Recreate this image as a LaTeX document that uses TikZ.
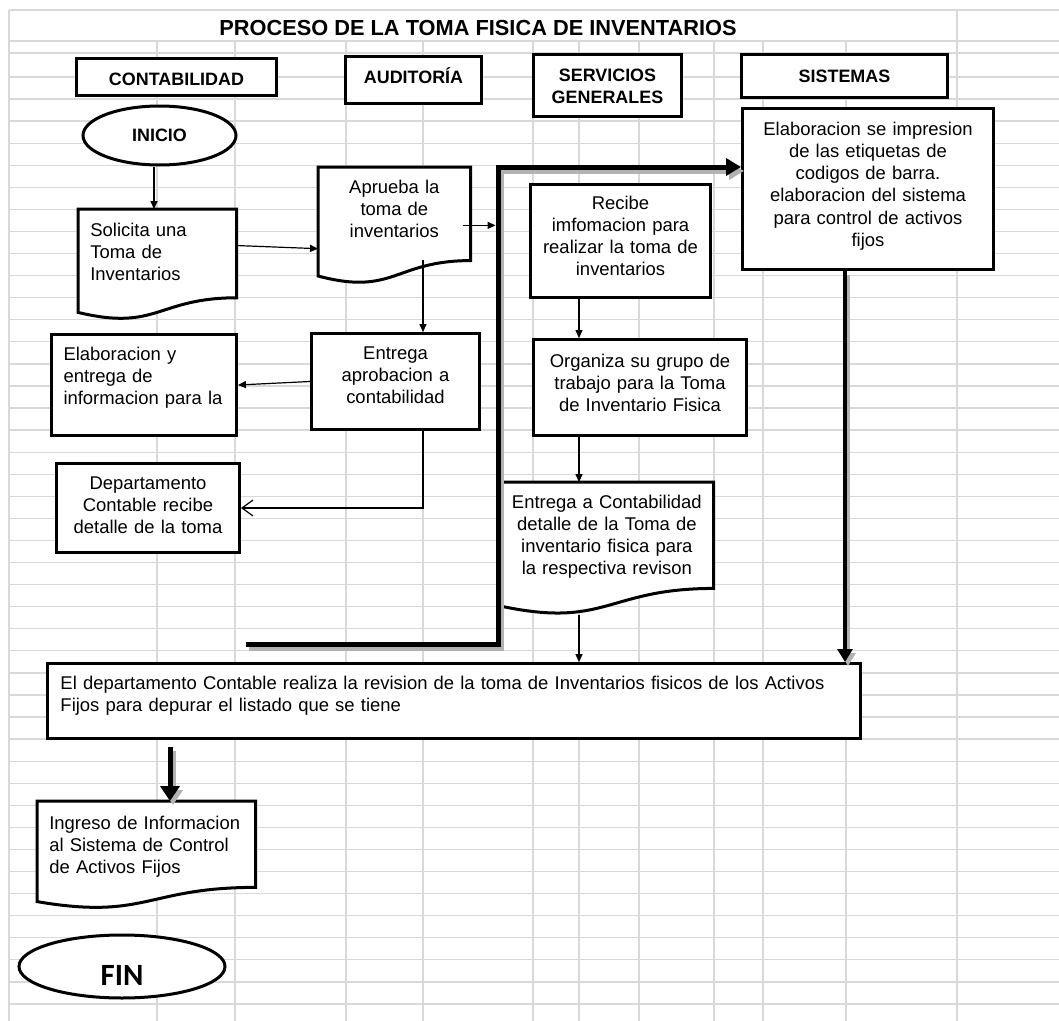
\documentclass[tikz,border=0pt]{standalone}
\usepackage{fontspec}
\setmainfont{Liberation Sans}
\newfontfamily\finfont{Carlito}
\usepackage{tikz}
\usetikzlibrary{arrows.meta, shapes.geometric, calc}
\newdimen\ux
\ux=0.02cm
\newcommand{\boxfont}{\fontsize{10.5}{12.6}\selectfont}
\newcommand{\lanefont}{\fontsize{10.2}{13}\selectfont\bfseries}
\newcommand{\docwave}[1]{%
  \filldraw[docline] (#1.north west) -- (#1.north east)
    -- ($(#1.north east)!0.802!(#1.south east)$)
    .. controls ($(#1.north)!0.802!(#1.south)$) and ($(#1.north)!1.1075!(#1.south)$)
    .. ($(#1.north west)!0.934!(#1.south west)$) -- cycle;}
\pgfdeclarelayer{grid}
\pgfdeclarelayer{outline}
\pgfsetlayers{grid,outline,main}

\begin{document}
\begin{tikzpicture}[x=0.02cm, y=-0.02cm,
                    gridline/.style={draw=black!15, line width=1.3\ux},
                    dims/.style n args={3}{text width=#1\ux, text height=#2\ux, text depth=#3\ux},
                    lane/.style={draw, fill=white, line width=3\ux, font=\lanefont, align=center,
                                 inner xsep=6\ux, inner ysep=0pt, anchor=north west},
                    stepbox/.style={draw, fill=white, line width=3\ux, font=\boxfont, align=center,
                                    inner xsep=6\ux, inner ysep=0pt, anchor=north west},
                    docnode/.style={font=\boxfont, align=center, inner xsep=6\ux, inner ysep=0pt,
                                    anchor=north west},
                    docline/.style={draw=black, fill=white, line width=3\ux},
                    terminal/.style={ellipse, draw, fill=white, line width=3\ux, inner sep=0pt},
                    flow/.style={-{Triangle[length=4.5pt, width=4pt]}, line width=1.2\ux},
                    openflow/.style={-{Straight Barb[length=6.2pt, width=9pt]}, line width=1.2\ux},
                    bigflow/.style={line width=5\ux},
                    shade/.style={draw=black!30, transform canvas={xshift=3\ux, yshift=-4\ux}}]
                    \useasboundingbox (0,0) rectangle (1059,1021);

                    \begin{pgfonlayer}{grid}
                    \draw[gridline] (9,10) -- (9,1021);
                    \draw[gridline] (957,10) -- (957,1021);
                    \foreach \gx in {157,235,346,423,533,579,639,714,763,846}
                        \draw[gridline] (\gx,41) -- (\gx,1021);
                    \foreach \gy in {10,41,53}
                        \draw[gridline] (9,\gy) -- (1059,\gy);
                    \foreach \k in {0,...,42}
                        \draw[gridline] (9,{77+22.07*\k}) -- (1059,{77+22.07*\k});
                    \end{pgfonlayer}

                    \node[font=\fontsize{12.4}{14}\selectfont\bfseries, anchor=base] (titulo) at (478,35)
                        {PROCESO DE LA TOMA FISICA DE INVENTARIOS};

                    \node[lane, dims={188}{26.5}{10.5}] (contab) at (75,57) {CONTABILIDAD};
                    \node[lane, dims={124}{26.5}{20.5}] (audit) at (344,55) {AUDITORÍA};
                    \node[lane, dims={136}{26.5}{35.5}] (servgen) at (532,53) {SERVICIOS\\GENERALES};
                    \node[lane, dims={194}{27.5}{15.5}] (sistemas) at (740,53) {SISTEMAS};

                    \node[terminal, minimum width=153\ux, minimum height=59\ux, font=\lanefont]
                        (inicio) at (159.5,135.5) {INICIO};

                    \node[docnode, align=left, inner xsep=12\ux, dims={134}{27}{83}] (solicita) at (78,209)
                        {Solicita una\\Toma de\\Inventarios};
                    \node[docnode, dims={140}{26}{90}] (aprueba) at (318,167)
                        {Aprueba la\\toma de\\inventarios};
                    \node[stepbox, dims={239}{27}{134}] (sisbox) at (741,107)
                        {Elaboracion se impresion\\de las etiquetas de\\codigos de barra.\\elaboracion del sistema\\para control de activos\\fijos};
                    \node[stepbox, dims={168}{25}{88}] (recibe) at (529,183)
                        {Recibe\\imfomacion para\\realizar la toma de\\inventarios};
                    \node[stepbox, dims={156}{26}{70}] (entapr) at (310,332)
                        {Entrega\\aprobacion a\\contabilidad};
                    \node[stepbox, align=left, inner xsep=12\ux, dims={161}{26}{75}] (elab) at (50,333)
                        {Elaboracion y\\entrega de\\informacion para la};
                    \node[stepbox, dims={201}{28}{68}] (organiza) at (532,338)
                        {Organiza su grupo de\\trabajo para la Toma\\de Inventario Fisica};
                    \node[stepbox, dims={171}{26}{63}] (depto) at (55,462)
                        {Departamento\\Contable recibe\\detalle de la toma};
                    \node[docnode, dims={201}{26}{106}] (entdoc) at (500,482)
                        {Entrega a Contabilidad\\detalle de la Toma de\\inventario fisica para\\la respectiva revison};
                    \node[stepbox, align=left, inner xsep=13\ux, dims={787}{26}{49}] (revision) at (46,662)
                        {El departamento Contable realiza la revision de la toma de Inventarios fisicos de los Activos\\Fijos para depurar el listado que se tiene};
                    \node[docnode, align=left, inner xsep=12\ux, dims={194}{28}{79}] (ingreso) at (37,801)
                        {Ingreso de Informacion\\al Sistema de Control\\de Activos Fijos};

                    \node[terminal, minimum width=206\ux, minimum height=63\ux,
                          font=\finfont\bfseries\fontsize{17.6}{20}\selectfont, text height=37\ux, text depth=0pt]
                        (fin) at (122,966.5) {FIN};

                    \begin{pgfonlayer}{outline}
                    \docwave{solicita}
                    \docwave{aprueba}
                    \docwave{entdoc}
                    \docwave{ingreso}
                    \end{pgfonlayer}

                    \coordinate (colcon) at (154,0);
                    \coordinate (colaud) at (423,0);
                    \coordinate (colserv) at (579,0);
                    \coordinate (colsis) at (845,0);
                    \coordinate (colrev) at (170,0);
                    \coordinate (loopa) at (246,644);
                    \coordinate (loopb) at (498,644);
                    \coordinate (loopc) at (498,167);

                    \draw[flow] (inicio.south -| colcon) -- (solicita.north -| colcon);
                    \draw[flow] ($(solicita.north east)!0.33!(solicita.south east)$)
                        -- ($(aprueba.north west)!0.7!(aprueba.south west)$);
                    \draw[flow] ([xshift=-8\ux]aprueba.east) -- ([xshift=-2.5\ux]aprueba.east -| loopc);
                    \draw[flow] ($(aprueba.center -| colaud)+(0,35)$) -- (entapr.north -| colaud);
                    \draw[flow] (entapr.west) -- (elab.east);
                    \draw[openflow] (entapr.south -| colaud) |- (depto.east);
                    \draw[flow] (recibe.south -| colserv) -- (organiza.north -| colserv);
                    \draw[flow] (organiza.south -| colserv) -- (entdoc.north -| colserv);
                    \draw[flow] (entdoc.south -| colserv) -- (revision.north -| colserv);

                    \draw[shade, bigflow, -{Triangle[length=8.5pt, width=9.6pt]}]
                        (loopa) -- (loopb) -- (loopc) -- (loopc -| sisbox.west);
                    \draw[bigflow, -{Triangle[length=8.5pt, width=9.6pt]}]
                        (loopa) -- (loopb) -- (loopc) -- (loopc -| sisbox.west);
                    \draw[shade, bigflow, line width=4\ux, -{Triangle[length=7.4pt, width=8.5pt]}]
                        (sisbox.south -| colsis) -- (revision.north -| colsis);
                    \draw[bigflow, line width=4\ux, -{Triangle[length=7.4pt, width=8.5pt]}]
                        (sisbox.south -| colsis) -- (revision.north -| colsis);
                    \draw[shade, bigflow, -{Triangle[length=8.5pt, width=10.8pt]}]
                        ($(revision.south -| colrev)+(0,7)$) -- (ingreso.north -| colrev);
                    \draw[bigflow, -{Triangle[length=8.5pt, width=10.8pt]}]
                        ($(revision.south -| colrev)+(0,7)$) -- (ingreso.north -| colrev);
\end{tikzpicture}
\end{document}
